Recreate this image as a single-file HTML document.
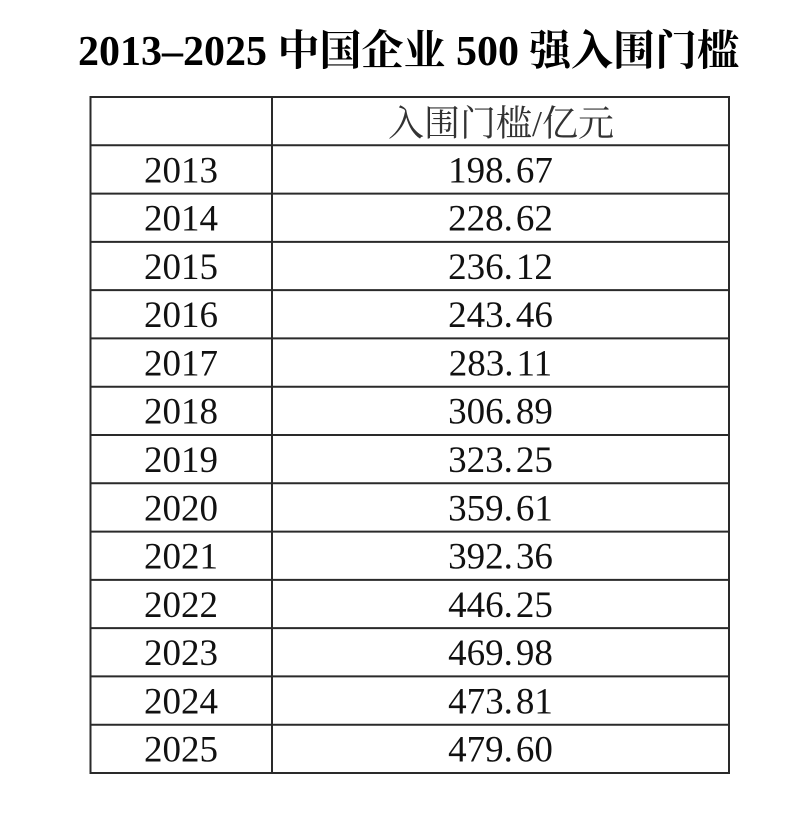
<!DOCTYPE html>
<html>
<head>
<meta charset="utf-8">
<style>
  html,body{margin:0;padding:0;background:#fff;}
  svg{display:block;}
  .t{font-family:"Liberation Serif","Noto Serif CJK SC",serif;}
</style>
</head>
<body>
<svg width="800" height="830" viewBox="0 0 800 830" xmlns="http://www.w3.org/2000/svg">
  <rect width="800" height="830" fill="#fff"/>
  <!-- Title -->
  <g class="t" font-weight="bold" font-size="42" fill="#000">
    <text x="78" y="65">2013–2025</text>
    <text x="277.5" y="65">中国企业</text>
    <text x="456" y="65">500</text>
    <text x="529" y="65">强入围门槛</text>
  </g>

  <!-- Table lines -->
  <g stroke="#2a2a2a" stroke-width="2" fill="none">
    <line x1="89.5" y1="97" x2="730" y2="97"/>
    <line x1="89.5" y1="145.3" x2="730" y2="145.3"/>
    <line x1="89.5" y1="193.6" x2="730" y2="193.6"/>
    <line x1="89.5" y1="241.9" x2="730" y2="241.9"/>
    <line x1="89.5" y1="290.1" x2="730" y2="290.1"/>
    <line x1="89.5" y1="338.4" x2="730" y2="338.4"/>
    <line x1="89.5" y1="386.7" x2="730" y2="386.7"/>
    <line x1="89.5" y1="435" x2="730" y2="435"/>
    <line x1="89.5" y1="483.3" x2="730" y2="483.3"/>
    <line x1="89.5" y1="531.6" x2="730" y2="531.6"/>
    <line x1="89.5" y1="579.9" x2="730" y2="579.9"/>
    <line x1="89.5" y1="628.1" x2="730" y2="628.1"/>
    <line x1="89.5" y1="676.4" x2="730" y2="676.4"/>
    <line x1="89.5" y1="724.7" x2="730" y2="724.7"/>
    <line x1="89.5" y1="773" x2="730" y2="773"/>
    <line x1="90.5" y1="96" x2="90.5" y2="774"/>
    <line x1="272" y1="96" x2="272" y2="774"/>
    <line x1="729" y1="96" x2="729" y2="774"/>
  </g>

  <!-- Header -->
  <text class="t" x="501" y="135.5" font-size="36" fill="#333" text-anchor="middle">入围门槛/亿元</text>

  <!-- Years -->
  <g class="t" font-size="37" fill="#111" text-anchor="middle">
    <text x="181" y="182.3">2013</text>
    <text x="181" y="230.6">2014</text>
    <text x="181" y="278.9">2015</text>
    <text x="181" y="327.1">2016</text>
    <text x="181" y="375.4">2017</text>
    <text x="181" y="423.7">2018</text>
    <text x="181" y="472">2019</text>
    <text x="181" y="520.3">2020</text>
    <text x="181" y="568.6">2021</text>
    <text x="181" y="616.9">2022</text>
    <text x="181" y="665.1">2023</text>
    <text x="181" y="713.4">2024</text>
    <text x="181" y="761.7">2025</text>
  </g>

  <!-- Values -->
  <g class="t" font-size="37" fill="#111" text-anchor="middle">
    <text x="500.5" y="182.3">198.<tspan dx="3">67</tspan></text>
    <text x="500.5" y="230.6">228.<tspan dx="3">62</tspan></text>
    <text x="500.5" y="278.9">236.<tspan dx="3">12</tspan></text>
    <text x="500.5" y="327.1">243.<tspan dx="3">46</tspan></text>
    <text x="500.5" y="375.4">283.<tspan dx="3">11</tspan></text>
    <text x="500.5" y="423.7">306.<tspan dx="3">89</tspan></text>
    <text x="500.5" y="472">323.<tspan dx="3">25</tspan></text>
    <text x="500.5" y="520.3">359.<tspan dx="3">61</tspan></text>
    <text x="500.5" y="568.6">392.<tspan dx="3">36</tspan></text>
    <text x="500.5" y="616.9">446.<tspan dx="3">25</tspan></text>
    <text x="500.5" y="665.1">469.<tspan dx="3">98</tspan></text>
    <text x="500.5" y="713.4">473.<tspan dx="3">81</tspan></text>
    <text x="500.5" y="761.7">479.<tspan dx="3">60</tspan></text>
  </g>
</svg>
</body>
</html>
